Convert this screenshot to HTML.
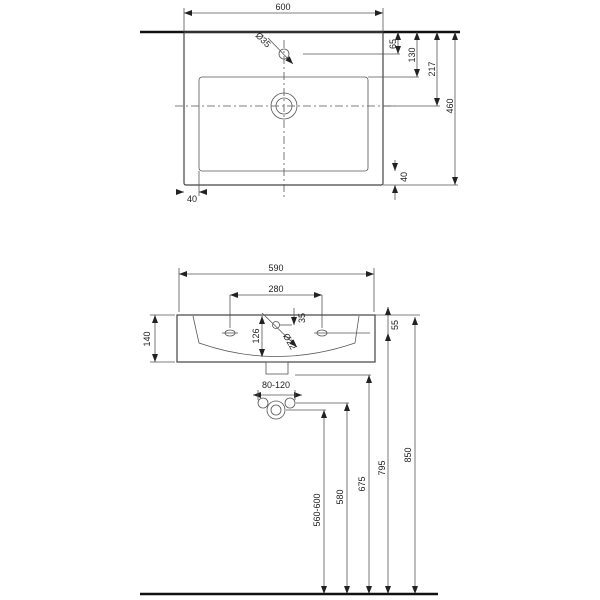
<!DOCTYPE html>
<html><head><style>body{margin:0;background:#fff}svg{display:block}text{font-family:"Liberation Sans",sans-serif;font-size:9px;fill:#222}</style></head><body>
<svg width="600" height="600" viewBox="0 0 600 600" xmlns="http://www.w3.org/2000/svg">
<defs><marker id="a" markerWidth="8" markerHeight="6" refX="8" refY="3" orient="auto-start-reverse" markerUnits="userSpaceOnUse"><path d="M0,0L8,3L0,6z" fill="#222"/></marker></defs>
<g stroke="#555" stroke-width="0.8" fill="none">
<!-- top view -->
<line x1="140" y1="32" x2="460" y2="32" stroke="#111" stroke-width="2.5"/>
<rect x="184" y="32" width="199" height="153" rx="2" stroke="#444" stroke-width="1.2"/>
<rect x="199" y="77" width="169" height="94" rx="3"/>
<circle cx="284" cy="106" r="13"/><circle cx="284" cy="106" r="8"/>
<circle cx="284" cy="54" r="5"/>
<line x1="284" y1="40" x2="284" y2="197" stroke-dasharray="8,3,2,3"/>
<line x1="175" y1="106" x2="395" y2="106" stroke-dasharray="8,3,2,3"/>
<line x1="184" y1="8" x2="184" y2="32"/><line x1="383" y1="8" x2="383" y2="32"/>
<line x1="184" y1="13" x2="383" y2="13" marker-start="url(#a)" marker-end="url(#a)"/>
<line x1="268" y1="38" x2="293" y2="64" marker-end="url(#a)"/>
<line x1="303" y1="54" x2="400" y2="54"/>
<line x1="368" y1="77" x2="419" y2="77"/>
<line x1="383" y1="106" x2="440" y2="106"/>
<line x1="383" y1="185" x2="458" y2="185"/>
<line x1="398" y1="32" x2="398" y2="54" marker-start="url(#a)" marker-end="url(#a)"/>
<line x1="417" y1="32" x2="417" y2="77" marker-start="url(#a)" marker-end="url(#a)"/>
<line x1="437" y1="32" x2="437" y2="106" marker-start="url(#a)" marker-end="url(#a)"/>
<line x1="455" y1="32" x2="455" y2="185" marker-start="url(#a)" marker-end="url(#a)"/>
<line x1="395" y1="160" x2="395" y2="171" marker-end="url(#a)"/>
<line x1="395" y1="200" x2="395" y2="185" marker-end="url(#a)"/>
<line x1="199" y1="171" x2="199" y2="196"/>
<line x1="176" y1="192" x2="184" y2="192" marker-end="url(#a)"/>
<line x1="207" y1="192" x2="199" y2="192" marker-end="url(#a)"/>
<!-- front view -->
<line x1="179" y1="268" x2="179" y2="312"/><line x1="374" y1="268" x2="374" y2="312"/>
<line x1="179" y1="274" x2="374" y2="274" marker-start="url(#a)" marker-end="url(#a)"/>
<line x1="230" y1="295" x2="322" y2="295" marker-start="url(#a)" marker-end="url(#a)"/>
<line x1="230" y1="295" x2="230" y2="328"/><line x1="322" y1="295" x2="322" y2="328"/>
<rect x="177" y="315" width="198" height="47" stroke="#444" stroke-width="1.2"/>
<path d="M193,316 L199,343 Q276,370 355,343 L359,316"/>
<ellipse cx="230" cy="333" rx="5" ry="3"/><line x1="222" y1="333" x2="238" y2="333"/>
<ellipse cx="322" cy="333" rx="5" ry="3"/><line x1="314" y1="333" x2="370" y2="333"/>
<circle cx="276" cy="325" r="3.5"/>
<line x1="262" y1="313" x2="297" y2="347" marker-end="url(#a)"/>
<line x1="279" y1="325" x2="292" y2="325"/>
<line x1="294" y1="308" x2="294" y2="325" marker-end="url(#a)"/>
<line x1="262" y1="316" x2="262" y2="357" marker-start="url(#a)" marker-end="url(#a)"/>
<rect x="266" y="362" width="22" height="12"/>
<line x1="150" y1="315" x2="175" y2="315"/><line x1="150" y1="362" x2="175" y2="362"/>
<line x1="155" y1="315" x2="155" y2="362" marker-start="url(#a)" marker-end="url(#a)"/>
<line x1="375" y1="315" x2="420" y2="315"/>
<line x1="388" y1="307" x2="388" y2="333" />
<line x1="388" y1="307" x2="388" y2="315" marker-start="url(#a)"/>
<line x1="388" y1="345" x2="388" y2="333" marker-end="url(#a)"/>
<line x1="253" y1="395" x2="302" y2="395" marker-start="url(#a)" marker-end="url(#a)"/>
<line x1="258" y1="390" x2="258" y2="400"/><line x1="295" y1="390" x2="295" y2="400"/>
<circle cx="263" cy="403" r="5"/><circle cx="290" cy="403" r="5"/>
<circle cx="276" cy="410" r="9"/><circle cx="276" cy="410" r="5"/>
<line x1="296" y1="403" x2="349" y2="403"/>
<line x1="286" y1="410" x2="326" y2="410"/>
<line x1="295" y1="375" x2="371" y2="375"/>
<line x1="324" y1="410" x2="324" y2="594" marker-start="url(#a)" marker-end="url(#a)"/>
<line x1="347" y1="403" x2="347" y2="594" marker-start="url(#a)" marker-end="url(#a)"/>
<line x1="369" y1="375" x2="369" y2="594" marker-start="url(#a)" marker-end="url(#a)"/>
<line x1="388" y1="345" x2="388" y2="594" marker-end="url(#a)"/>
<line x1="415" y1="317" x2="415" y2="594" marker-start="url(#a)" marker-end="url(#a)"/>
<line x1="140" y1="594" x2="438" y2="594" stroke="#111" stroke-width="2.5"/>
</g>
<text x="283" y="10" text-anchor="middle">600</text>
<text x="261" y="42" transform="rotate(45 261 42)" text-anchor="middle">Ø35</text>
<text x="398" y="44" transform="rotate(-90 398 44)" text-anchor="middle" dy="-2">65</text>
<text x="417" y="55" transform="rotate(-90 417 55)" text-anchor="middle" dy="-2">130</text>
<text x="437" y="69" transform="rotate(-90 437 69)" text-anchor="middle" dy="-2">217</text>
<text x="455" y="106" transform="rotate(-90 455 106)" text-anchor="middle" dy="-2">460</text>
<text x="407" y="177" transform="rotate(-90 407 177)" text-anchor="middle">40</text>
<text x="192" y="202" text-anchor="middle">40</text>
<text x="276" y="271" text-anchor="middle">590</text>
<text x="276" y="292" text-anchor="middle">280</text>
<text x="150" y="339" transform="rotate(-90 150 339)" text-anchor="middle">140</text>
<text x="259" y="336" transform="rotate(-90 259 336)" text-anchor="middle">126</text>
<text x="305" y="318" transform="rotate(-90 305 318)" text-anchor="middle">35</text>
<text x="287" y="343" transform="rotate(60 287 343)" text-anchor="middle">Ø22</text>
<text x="398" y="325" transform="rotate(-90 398 325)" text-anchor="middle">55</text>
<text x="276" y="388" text-anchor="middle">80-120</text>
<text x="321" y="510" transform="rotate(-90 321 510)" text-anchor="middle" dy="-1">560-600</text>
<text x="344" y="497" transform="rotate(-90 344 497)" text-anchor="middle" dy="-1">580</text>
<text x="366" y="484" transform="rotate(-90 366 484)" text-anchor="middle" dy="-1">675</text>
<text x="386" y="468" transform="rotate(-90 386 468)" text-anchor="middle" dy="-1">795</text>
<text x="412" y="455" transform="rotate(-90 412 455)" text-anchor="middle" dy="-1">850</text>
</svg>
</body></html>
